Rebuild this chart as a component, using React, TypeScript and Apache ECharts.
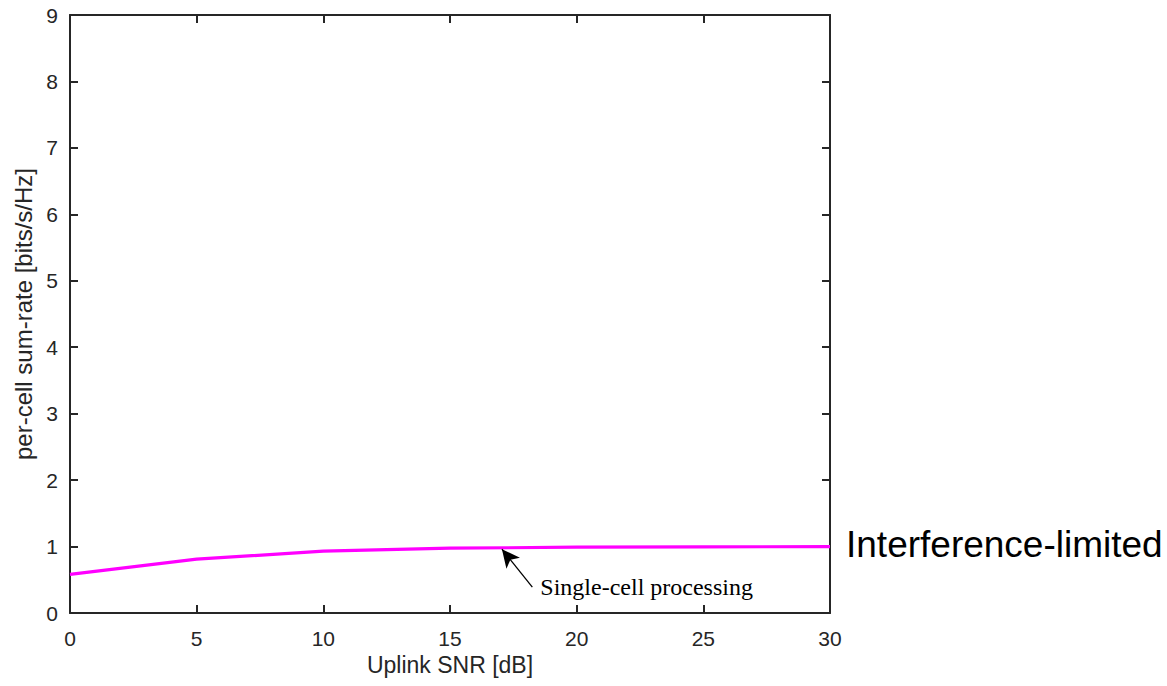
import React, { useEffect, useRef } from "react";
import * as echarts from "echarts";

const snrDb = [0, 5, 10, 15, 20, 25, 30];
const sumRate = [0.58, 0.81, 0.93, 0.975, 0.99, 0.995, 1.0];
const xTicks = [0, 5, 10, 15, 20, 25, 30];
const yTicks = [0, 1, 2, 3, 4, 5, 6, 7, 8, 9];
const annotationText = "Single-cell processing";
const arrowTip = [17.05, 0.96];
const arrowTail = [18.25, 0.39];
const sideLabel = "Interference-limited";

const AX = "#262626";

export default function App() {
  const ref = useRef<HTMLDivElement>(null);
  useEffect(() => {
    if (!ref.current) return;
    const chart = echarts.init(ref.current, null, { renderer: "svg" });
    const font = "Liberation Sans, Arial, sans-serif";
    const baseAxis = {
      axisLine: { show: true, onZero: false, lineStyle: { color: AX, width: 2 } },
      axisTick: { show: true, inside: true, length: 8, lineStyle: { color: AX, width: 2 } },
      splitLine: { show: false },
    };
    chart.setOption({
      animation: false,
      grid: { left: 70, top: 15, right: 337, bottom: 73 },
      xAxis: [
        {
          ...baseAxis,
          type: "value",
          min: xTicks[0],
          max: xTicks[xTicks.length - 1],
          interval: 5,
          name: "Uplink SNR [dB]",
          nameLocation: "middle",
          nameGap: 37,
          nameTextStyle: { color: AX, fontSize: 23, fontFamily: font },
          axisLabel: { color: AX, fontSize: 21, fontFamily: font, margin: 15 },
        },
        {
          ...baseAxis,
          type: "value",
          position: "top",
          min: xTicks[0],
          max: xTicks[xTicks.length - 1],
          interval: 5,
          axisLabel: { show: false },
        },
      ],
      yAxis: [
        {
          ...baseAxis,
          type: "value",
          min: yTicks[0],
          max: yTicks[yTicks.length - 1],
          interval: 1,
          name: "per-cell sum-rate [bits/s/Hz]",
          nameLocation: "middle",
          nameGap: 32,
          nameTextStyle: { color: AX, fontSize: 24, fontFamily: font },
          axisLabel: { color: AX, fontSize: 21, fontFamily: font, margin: 12 },
        },
        {
          ...baseAxis,
          type: "value",
          position: "right",
          min: yTicks[0],
          max: yTicks[yTicks.length - 1],
          interval: 1,
          axisLabel: { show: false },
        },
      ],
      series: [
        {
          type: "line",
          data: snrDb.map((x, i) => [x, sumRate[i]]),
          showSymbol: false,
          lineStyle: { color: "#FF00FF", width: 3.2 },
          markLine: {
            silent: true,
            symbol: ["none", "arrow"],
            symbolSize: [13, 18],
            label: { show: false },
            lineStyle: { color: "#000", width: 1.3, type: "solid" },
            data: [[{ coord: arrowTail }, { coord: arrowTip }]],
          },
        },
      ],
    });
    const tail = chart.convertToPixel({ gridIndex: 0 }, arrowTail) as number[];
    chart.setOption({
      graphic: [
        {
          type: "text",
          x: tail[0] + 8,
          y: tail[1],
          style: {
            text: annotationText,
            fill: "#000",
            fontSize: 24,
            fontFamily: "Liberation Serif, Times New Roman, serif",
            verticalAlign: "middle",
            align: "left",
          },
        },
        {
          type: "text",
          x: 846,
          y: 544,
          style: {
            text: sideLabel,
            fill: "#000",
            fontSize: 37,
            fontFamily: font,
            verticalAlign: "middle",
            align: "left",
          },
        },
        {
          type: "rect",
          shape: { x: 828, y: 49, width: 5, height: 4 },
          style: { fill: "#fff" },
        },
      ],
    });
    return () => chart.dispose();
  }, []);
  return <div ref={ref} style={{ width: 1167, height: 686, position: "absolute", left: 0, top: 0 }} />;
}
